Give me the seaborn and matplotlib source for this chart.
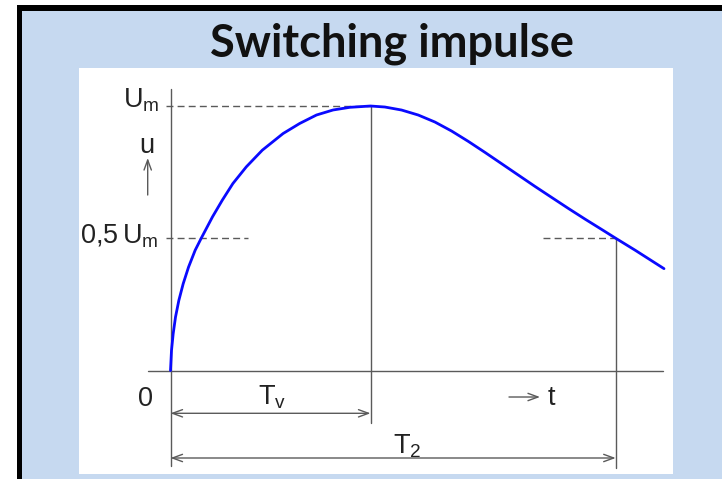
import matplotlib
matplotlib.use("Agg")
import matplotlib.pyplot as plt
import seaborn as sns
import pandas as pd
from matplotlib.patches import Rectangle

# Switching impulse waveform: time in units of the time-to-peak T_v,
# voltage in units of the peak value U_m
t_values = [0.0, 0.005, 0.0134, 0.025, 0.0417, 0.0634, 0.0902, 0.1235,
            0.1536, 0.210, 0.259, 0.312, 0.379, 0.459, 0.563, 0.646, 0.730,
            0.813, 0.896, 1.0,
            1.0718, 1.1553, 1.2387, 1.3222, 1.4057, 1.4891, 1.5726, 1.6561,
            1.7396, 1.8230, 1.9065, 1.9900, 2.0735, 2.1569, 2.226, 2.3239,
            2.4675]
u_values = [0.0, 0.0758, 0.139, 0.202, 0.265, 0.328, 0.391, 0.455,
            0.500, 0.581, 0.644, 0.707, 0.770, 0.833, 0.896, 0.934, 0.966,
            0.985, 0.995, 1.0,
            0.9962, 0.9848, 0.9659, 0.9394, 0.9053, 0.8662, 0.8245, 0.7816,
            0.7386, 0.6957, 0.6540, 0.6124, 0.5720, 0.5328, 0.500, 0.4545,
            0.3851]

T_V = 1.0      # time to peak
T_2 = 2.226    # time to half value on the tail
U_M = 1.0      # peak voltage
U_HALF = 0.5   # half value

y_labels = ["$\\mathregular{U_m}$", "$\\mathregular{0{,}5\\,U_m}$"]
title = "Switching impulse"

W, H = 722, 479
sns.set_theme(style="white")
plt.rcParams["font.family"] = ["Liberation Sans", "DejaVu Sans"]
plt.rcParams["mathtext.fontset"] = "custom"
plt.rcParams["mathtext.rm"] = "Liberation Sans"

fig = plt.figure(figsize=(W / 100, H / 100), dpi=100, facecolor="white")


def fig_box(x0, y0, x1, y1):
    """Pixel box (from top-left) to figure-fraction rectangle."""
    return (x0 / W, 1 - y1 / H, (x1 - x0) / W, (y1 - y0) / H)


# slide frame and light-blue background
bx, by, bw, bh = fig_box(16.5, 5, 740, 500)
fig.patches.append(Rectangle((bx, by), bw, bh, transform=fig.transFigure,
                             facecolor="black", edgecolor="none", zorder=-2))
bx, by, bw, bh = fig_box(22, 11, 740, 500)
fig.patches.append(Rectangle((bx, by), bw, bh, transform=fig.transFigure,
                             facecolor="#C6D9F0", edgecolor="none", zorder=-1))

fig.text(392 / W, 1 - 56.5 / H, title, ha="center", va="baseline",
         fontsize=32.5, fontweight="bold", family=["Lato", "DejaVu Sans"],
         color="#111111")

# white drawing panel
panel = fig_box(79, 67.5, 673, 474)
fig.patches.append(Rectangle(panel[:2], panel[2], panel[3],
                             transform=fig.transFigure, facecolor="white",
                             edgecolor="none", zorder=-0.5))
ax = fig.add_axes(panel)
ax.set_xlim(-0.4575, 2.5125)
ax.set_ylim(-0.3913, 1.1456)
ax.set_axis_off()

df = pd.DataFrame({"t": t_values, "u": u_values})
sns.lineplot(data=df, x="t", y="u", ax=ax, color="#0A0AFF", lw=2.0,
             sort=False, zorder=5)

grey = "#5a5a5a"
lw = 1.0
# coordinate axes
ax.plot([-0.1125, 2.4625], [0, 0], color=grey, lw=lw)
ax.plot([0, 0], [-0.361, 1.0643], color=grey, lw=lw)
# reference levels
dash = dict(color=grey, lw=lw, ls=(0, (5, 3)))
ax.plot([-0.025, T_V], [U_M, U_M], **dash)
ax.plot([-0.025, 0.3875], [U_HALF, U_HALF], **dash)
ax.plot([1.8625, T_2], [U_HALF, U_HALF], **dash)
# extension lines
ax.plot([T_V, T_V], [U_M, -0.1985], color=grey, lw=lw)
ax.plot([T_2, T_2], [U_HALF, -0.3686], color=grey, lw=lw)

arrow = dict(arrowstyle="<->,head_length=0.6,head_width=0.22", color=grey,
             lw=lw, shrinkA=0, shrinkB=0)
ax.annotate("", xy=(T_V, -0.1618), xytext=(0, -0.1618), arrowprops=arrow)
ax.annotate("", xy=(T_2, -0.3308), xytext=(0, -0.3308), arrowprops=arrow)
one_way = dict(arrowstyle="->,head_length=0.6,head_width=0.22", color=grey,
               lw=lw, shrinkA=0, shrinkB=0)
ax.annotate("", xy=(-0.114, 0.8034), xytext=(-0.114, 0.6635),
            arrowprops=one_way)
ax.annotate("", xy=(1.8475, -0.1002), xytext=(1.6925, -0.1002),
            arrowprops=one_way)

txt = dict(fontsize=19.5, color="#222222", va="baseline")
ax.text(-0.0575, 0.996, y_labels[0], ha="right", **txt)
ax.text(-0.0575, 0.482, y_labels[1], ha="right", **txt)
ax.text(-0.12, 0.8223, "u", ha="center", **txt)
ax.text(-0.125, -0.134, "0", ha="center", **txt)
ax.text(1.8875, -0.1304, "t", ha="left", **txt)
ax.text(0.4375, -0.130, "$\\mathregular{T_v}$", ha="left", **txt)
ax.text(1.1125, -0.312, "$\\mathregular{T_2}$", ha="left", **txt)

fig.savefig("out.png", dpi=100, facecolor="white")
